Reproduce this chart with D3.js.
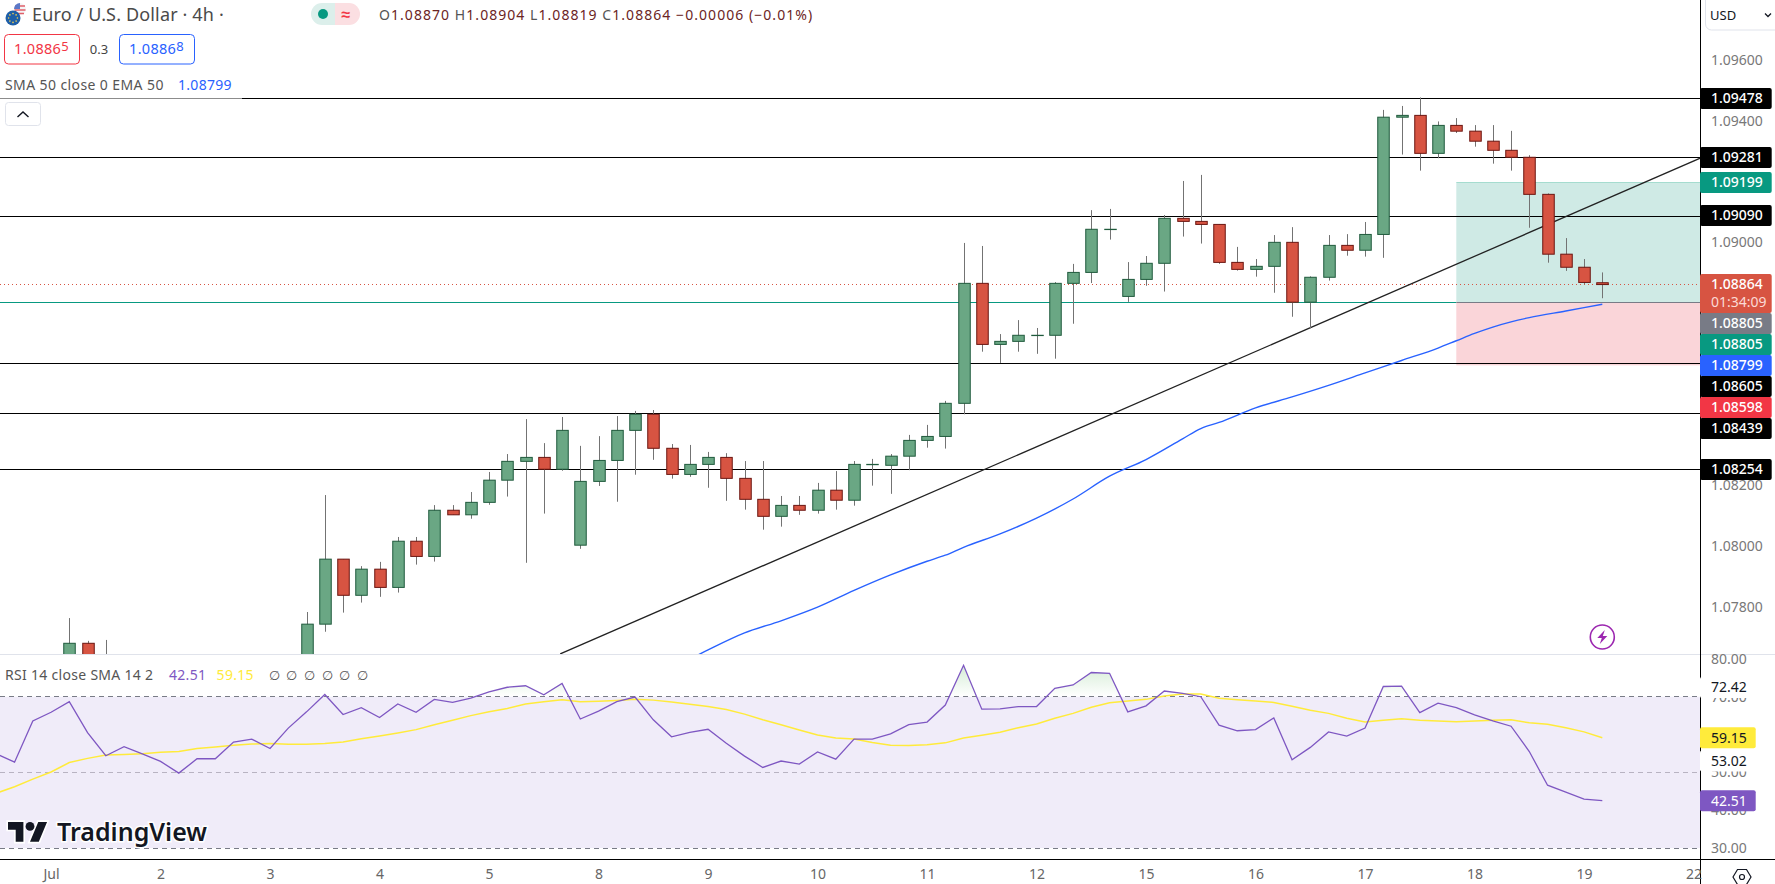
<!DOCTYPE html>
<html>
<head>
<meta charset="utf-8">
<title>EUR/USD 4h</title>
<script src="https://cdn.jsdelivr.net/npm/d3@7"></script>
<style>
html, body { margin: 0; padding: 0; background: #fff; overflow: hidden; }
text { font-family: "Noto Sans", sans-serif; }
</style>
</head>
<body>
<div id="chart"></div>
<script>
// candles, one slot per 4h bar. null = bar sits below the pane, can't be read
var opens = [null,null,null,null,
	1.07640,1.07683,1.07600,
	null,null,null,null,null,null,null,null,null,null,
	1.07640,1.07746,1.07960,1.07841,1.07927,1.07867,1.08019,1.07969,1.08121,1.08106,1.08147,1.08220,
	1.08282,1.08295,1.08256,1.08006,1.08216,1.08285,1.08384,1.08437,1.08325,1.08239,1.08272,1.08295,
	1.08226,1.08157,1.08101,1.08137,1.08121,1.08187,1.08154,1.08272,1.08269,1.08299,1.08351,1.08364,
	1.08473,1.08868,1.08667,1.08677,1.08697,1.08697,1.08868,1.08904,1.09046,1.08825,1.08881,1.08934,
	1.09082,1.09072,1.09062,1.08937,1.08914,1.08924,1.09003,1.08806,1.08888,1.08993,1.08977,1.09029,
	1.09415,1.09421,1.09296,1.09388,1.09369,1.09336,1.09306,1.09283,1.09161,1.08964,1.08921,1.08870];
var closes = [null,null,null,null,
	1.07683,1.07640,1.07590,
	null,null,null,null,null,null,null,null,null,null,
	1.07746,1.07960,1.07841,1.07927,1.07867,1.08019,1.07969,1.08121,1.08106,1.08147,1.08220,1.08282,
	1.08295,1.08256,1.08384,1.08216,1.08285,1.08384,1.08437,1.08325,1.08239,1.08272,1.08295,1.08226,
	1.08157,1.08101,1.08137,1.08121,1.08187,1.08154,1.08272,1.08272,1.08299,1.08351,1.08364,1.08473,
	1.08868,1.08667,1.08677,1.08697,1.08697,1.08868,1.08904,1.09046,1.09046,1.08881,1.08934,1.09082,
	1.09072,1.09062,1.08937,1.08914,1.08924,1.09003,1.08806,1.08888,1.08993,1.08977,1.09029,1.09415,
	1.09421,1.09296,1.09388,1.09369,1.09336,1.09306,1.09283,1.09161,1.08964,1.08921,1.08871,1.08864];
var highs = [null,null,null,null,
	1.07766,1.07691,1.07694,
	null,null,null,null,null,null,null,null,null,null,
	1.07786,1.08171,1.07960,1.07937,1.07951,1.08033,1.08033,1.08138,1.08138,1.08181,1.08247,1.08306,
	1.08421,1.08342,1.08428,1.08333,1.08365,1.08431,1.08448,1.08451,1.08339,1.08336,1.08313,1.08309,
	1.08283,1.08283,1.08168,1.08168,1.08211,1.08250,1.08283,1.08290,1.08306,1.08369,1.08402,1.08481,
	1.09001,1.08991,1.08701,1.08747,1.08721,1.08872,1.08932,1.09109,1.09113,1.08938,1.08958,1.09093,
	1.09205,1.09225,1.09062,1.08988,1.08948,1.09027,1.09053,1.08891,1.09027,1.09030,1.09070,1.09439,
	1.09452,1.09480,1.09401,1.09412,1.09389,1.09389,1.09370,1.09290,1.09164,1.09017,1.08948,1.08904];
var lows = [null,null,null,null,
	1.07620,1.07620,1.07570,
	null,null,null,null,null,null,null,null,null,null,
	1.07620,1.07721,1.07784,1.07817,1.07836,1.07850,1.07942,1.07952,1.08106,1.08093,1.08139,1.08166,
	1.07948,1.08110,1.08251,1.07994,1.08201,1.08149,1.08238,1.08287,1.08225,1.08231,1.08195,1.08152,
	1.08123,1.08057,1.08067,1.08106,1.08110,1.08123,1.08136,1.08202,1.08175,1.08253,1.08327,1.08324,
	1.08437,1.08643,1.08606,1.08643,1.08636,1.08620,1.08735,1.08869,1.09012,1.08807,1.08860,1.08841,
	1.09022,1.08999,1.08932,1.08910,1.08890,1.08837,1.08758,1.08720,1.08877,1.08959,1.08956,1.08952,
	1.09292,1.09239,1.09280,1.09363,1.09318,1.09262,1.09239,1.09051,1.08936,1.08909,1.08865,1.08819];

var emaBars = [38,39,41,43,45,47,49,51,52,53,55,57,59,61,63,65,66,67,69,71,73,75,77,79,80,81,82,83,84,86,88];
var emaValues = [1.07631,1.07661,1.07717,1.07757,1.07802,1.07857,1.07908,1.07953,1.07973,1.07999,1.08043,1.08095,1.08158,1.08233,1.08288,1.08356,1.08390,1.08410,1.08458,1.08494,1.08532,1.08573,1.08614,1.08655,1.08679,1.08703,1.08724,1.08741,1.08755,1.08777,1.08799];

var rsiValues = [54.9,52.7,63.6,65.9,68.7,60.5,54.4,56.8,54.9,52.9,49.8,53.6,53.6,58.0,58.8,56.3,61.7,66.0,70.6,65.3,67.1,64.5,68.1,65.9,69.3,68.5,69.6,71.3,72.5,72.9,70.5,73.5,64.1,66.2,68.7,69.9,63.9,59.4,60.6,61.4,57.7,54.3,51.3,53.0,52.2,55.4,53.5,58.8,58.8,60.2,62.6,63.3,67.8,78.3,66.7,66.8,67.4,67.4,72.2,73.1,76.4,76.2,66.0,67.6,71.5,70.9,70.0,62.5,61.0,61.3,64.4,53.3,56.6,60.7,59.6,61.7,72.7,72.8,65.8,68.3,67.1,65.2,63.6,62.2,55.5,46.6,44.8,42.9,42.51];
var rsiSma = [44.5,46.2,48.2,50.1,52.6,53.7,54.6,54.7,54.9,55.3,55.5,56.3,56.7,57.2,57.5,57.6,57.4,57.4,57.6,58.0,58.9,59.6,60.4,61.3,62.6,63.8,65.0,66.0,66.9,68.1,68.7,69.2,68.7,68.8,69.0,69.3,69.1,68.6,68.0,67.4,66.6,65.4,63.9,62.6,61.2,59.9,59.1,58.8,57.9,57.2,57.1,57.3,57.8,59.1,59.8,60.6,61.8,62.8,64.3,65.6,67.2,68.4,68.9,69.3,70.2,70.7,70.7,69.6,69.2,68.9,68.5,67.5,66.4,65.6,64.3,63.3,63.8,64.2,63.8,63.6,63.4,63.6,63.8,63.9,63.1,62.7,61.8,60.7,59.15];

var levels = [1.09478,1.09281,1.09090,1.08605,1.08439,1.08254];
// 1.092, 1.088, 1.086 and 1.084 sit fully behind tags
var priceTicks = [1.096,1.094,1.090,1.082,1.080,1.078];
var rsiTicks = [80,70,50,40,30];
var rsiBands = [70,50,30];
var dayBars = [3,9,15,21,27,33,39,45,51,57,63,69,75,81,87,93];
var dayLabels = ['Jul','2','3','4','5','8','9','10','11','12','15','16','17','18','19','22'];

// long position tool and trend line
var entry = 1.08805, target = 1.09199, stop = 1.08598, lastClose = 1.08864;
var boxBars = [80, 94];
var trendBars = [30.9, 93.4], trendPrices = [1.07648, 1.09281];

// price tags, top to bottom
var tagText = ['1.09478','1.09281','1.09199','1.09090','1.08864','1.08805','1.08805','1.08799','1.08605','1.08598','1.08439','1.08254'];
var tagFill = ['#000','#000','#089981','#000','#d75442','#787b86','#089981','#2962ff','#000','#f23645','#000','#000'];
var rsiTagText = ['72.42','59.15','53.02','42.51'];
var rsiTagFill = ['#fff','#ffeb3b','#fff','#7e57c2'];
var rsiTagInk = ['#131722','#131722','#131722','#fff'];

var W = 1775, H = 884, axisX = 1700, paneBottom = 654, rsiBottom = 859;
var green = '#6aa784', greenDark = '#1f5a3c', red = '#d75442', redDark = '#6b1510', wick = '#737373';

var x = d3.scaleLinear().domain([4, 88]).range([69.3, 1602.3]);
var y = d3.scaleLinear().domain([1.08, 1.096]).range([547, 61]);
var yr = d3.scaleLinear().domain([30, 80]).range([848, 658.9]);
function snap(v) { return Math.round(v - 0.4) + 0.5; }

var root = d3.select('#chart').append('svg')
	.attr('width', W)
	.attr('height', H)
	.style('display', 'block')
	.style('background', '#fff');

var defs = root.append('defs');
defs.append('clipPath').attr('id', 'pane').append('rect')
	.attr('x', 0).attr('y', 0).attr('width', axisX).attr('height', paneBottom);
defs.append('clipPath').attr('id', 'above70').append('rect')
	.attr('x', 0).attr('y', 0).attr('width', axisX).attr('height', yr(70));
var grad = defs.append('linearGradient').attr('id', 'ob')
	.attr('gradientUnits', 'userSpaceOnUse')
	.attr('x1', 0).attr('x2', 0).attr('y1', yr(80)).attr('y2', yr(70));
grad.append('stop').attr('offset', 0).attr('stop-color', '#4caf50').attr('stop-opacity', 0.28);
grad.append('stop').attr('offset', 1).attr('stop-color', '#4caf50').attr('stop-opacity', 0);

/* ---- main pane ---- */
var pane = root.append('g').attr('clip-path', 'url(#pane)');

// position box
pane.append('rect')
	.attr('x', x(boxBars[0])).attr('width', axisX - x(boxBars[0]))
	.attr('y', y(target)).attr('height', y(entry) - y(target))
	.attr('fill', '#cfeae5');
pane.append('rect')
	.attr('x', x(boxBars[0])).attr('width', axisX - x(boxBars[0]))
	.attr('y', y(entry)).attr('height', y(stop) - y(entry))
	.attr('fill', '#fad5d9');
pane.append('line')
	.attr('x1', x(boxBars[0])).attr('x2', axisX)
	.attr('y1', snap(y(target))).attr('y2', snap(y(target)))
	.attr('stroke', '#a5dccf').attr('stroke-width', 1);

// support and resistance
pane.selectAll('line.level')
	.data(levels).enter()
  .append('line')
	.attr('class', 'level')
	.attr('x1', 0).attr('x2', axisX)
	.attr('y1', function(d) { return snap(y(d)); })
	.attr('y2', function(d) { return snap(y(d)); })
	.attr('stroke', '#000').attr('stroke-width', 1);

// entry line changes colour where the box starts
pane.append('line')
	.attr('x1', 0).attr('x2', x(boxBars[0]))
	.attr('y1', snap(y(entry))).attr('y2', snap(y(entry)))
	.attr('stroke', '#089981').attr('stroke-width', 1);
pane.append('line')
	.attr('x1', x(boxBars[0])).attr('x2', axisX)
	.attr('y1', snap(y(entry))).attr('y2', snap(y(entry)))
	.attr('stroke', '#787b86').attr('stroke-width', 1);

// last price
pane.append('line')
	.attr('x1', 0).attr('x2', axisX)
	.attr('y1', snap(y(lastClose))).attr('y2', snap(y(lastClose)))
	.attr('stroke', '#d75442').attr('stroke-width', 1).attr('stroke-dasharray', '1 3');

// trend line
pane.append('line')
	.attr('x1', x(trendBars[0])).attr('x2', x(trendBars[1]))
	.attr('y1', y(trendPrices[0])).attr('y2', y(trendPrices[1]))
	.attr('stroke', '#222').attr('stroke-width', 1.3);

// candles
var bars = d3.range(opens.length).filter(function(i) { return opens[i] !== null; });
var candle = pane.selectAll('g.candle')
	.data(bars).enter()
  .append('g')
	.attr('class', 'candle');
candle.append('line')
	.attr('x1', function(i) { return Math.round(x(i)) + 0.5; })
	.attr('x2', function(i) { return Math.round(x(i)) + 0.5; })
	.attr('y1', function(i) { return y(highs[i]); })
	.attr('y2', function(i) { return y(lows[i]); })
	.attr('stroke', wick).attr('stroke-width', 1);
candle.append('rect')
	.attr('x', function(i) { return Math.round(x(i)) - 5.25; })
	.attr('width', 11.5)
	.attr('y', function(i) { return y(Math.max(opens[i], closes[i])); })
	.attr('height', function(i) { return Math.max(0.3, Math.abs(y(opens[i]) - y(closes[i]))); })
	.attr('fill', function(i) { return closes[i] >= opens[i] ? green : red; })
	.attr('stroke', function(i) { return closes[i] >= opens[i] ? greenDark : redDark; })
	.attr('stroke-width', 1);

// EMA
var emaLine = d3.line()
	.x(function(d, j) { return x(emaBars[j]); })
	.y(function(d) { return y(d); })
	.curve(d3.curveMonotoneX);
pane.append('path')
	.attr('d', emaLine(emaValues))
	.attr('fill', 'none').attr('stroke', '#2962ff').attr('stroke-width', 1.4);

// lightning mark on the last bar
var bolt = root.append('g').attr('transform', 'translate(' + x(88) + ',637)');
bolt.append('circle').attr('r', 12).attr('fill', '#fff').attr('stroke', '#9c27b0').attr('stroke-width', 1.6);
bolt.append('path').attr('d', 'M2.5 -7 L-5 1 L-0.5 1 L-2.5 7 L5 -1 L0.5 -1 Z').attr('fill', '#9c27b0');

/* ---- RSI pane ---- */
var rsi = root.append('g');
rsi.append('rect')
	.attr('x', 0).attr('width', axisX)
	.attr('y', yr(70)).attr('height', yr(30) - yr(70))
	.attr('fill', '#f0ecf9');
rsi.selectAll('line.band')
	.data(rsiBands).enter()
  .append('line')
	.attr('class', 'band')
	.attr('x1', 0).attr('x2', axisX)
	.attr('y1', function(d) { return snap(yr(d)); })
	.attr('y2', function(d) { return snap(yr(d)); })
	.attr('stroke', function(d) { return d === 50 ? '#b8b3c2' : '#787b86'; })
	.attr('stroke-width', 1)
	.attr('stroke-dasharray', '5 4');

var overArea = d3.area()
	.x(function(d, i) { return x(i); })
	.y0(yr(70))
	.y1(function(d) { return yr(d); });
rsi.append('path')
	.attr('d', overArea(rsiValues))
	.attr('clip-path', 'url(#above70)')
	.attr('fill', 'url(#ob)');

var rsiLine = d3.line()
	.x(function(d, i) { return x(i); })
	.y(function(d) { return yr(d); });
rsi.append('path')
	.attr('d', rsiLine(rsiSma))
	.attr('fill', 'none').attr('stroke', '#ffeb3b').attr('stroke-width', 1.5);
rsi.append('path')
	.attr('d', rsiLine(rsiValues))
	.attr('fill', 'none').attr('stroke', '#7e57c2').attr('stroke-width', 1.3);

/* ---- frame and axes ---- */
root.append('line')
	.attr('x1', 0).attr('x2', W).attr('y1', paneBottom).attr('y2', paneBottom)
	.attr('stroke', '#e0e3eb').attr('stroke-width', 1).attr('shape-rendering', 'crispEdges');
root.append('line')
	.attr('x1', 0).attr('x2', W).attr('y1', rsiBottom).attr('y2', rsiBottom)
	.attr('stroke', '#000').attr('stroke-width', 1).attr('shape-rendering', 'crispEdges');
root.append('line')
	.attr('x1', axisX).attr('x2', axisX).attr('y1', 0).attr('y2', H)
	.attr('stroke', '#000').attr('stroke-width', 1).attr('shape-rendering', 'crispEdges');

var priceAxis = d3.axisRight(y).tickValues(priceTicks).tickSize(0).tickPadding(11)
	.tickFormat(d3.format('.5f'));
var gp = root.append('g').attr('transform', 'translate(' + axisX + ',0)').call(priceAxis);
gp.select('.domain').remove();
gp.selectAll('text').attr('fill', '#787878').attr('dy', '0.25em').style('font-size', '14px');

var rsiAxis = d3.axisRight(yr).tickValues(rsiTicks).tickSize(0).tickPadding(11)
	.tickFormat(d3.format('.2f'));
var gr = root.append('g').attr('transform', 'translate(' + axisX + ',0)').call(rsiAxis);
gr.select('.domain').remove();
gr.selectAll('text').attr('fill', '#787878').style('font-size', '14px');

var timeAxis = d3.axisBottom(x).tickValues(dayBars).tickSize(0).tickPadding(10)
	.tickFormat(function(d) { return dayLabels[dayBars.indexOf(d)]; });
var gt = root.append('g').attr('transform', 'translate(0,' + rsiBottom + ')').call(timeAxis);
gt.select('.domain').remove();
gt.selectAll('text').attr('fill', '#666').style('font-size', '14px');

// tags: stack down so they never overlap
var tagH = 21, lastTagH = 39, bottomEdge = -1e9;
var tagG = root.append('g');
tagText.forEach(function(t, n) {
	var isLast = t === '1.08864';
	var top = Math.max(Math.floor(y(+t) - 10), bottomEdge);
	var h = isLast ? lastTagH : tagH;
	bottomEdge = top + h;
	tagG.append('rect')
		.attr('x', axisX).attr('y', top).attr('width', 71.7).attr('height', h)
		.attr('rx', 2).attr('fill', tagFill[n]);
	tagG.append('text')
		.attr('x', axisX + 11).attr('y', top + tagH / 2).attr('dy', '0.35em')
		.attr('fill', '#fff').style('font-size', '14px').style('font-weight', 500).text(t);
	if (isLast) {
		tagG.append('text')
			.attr('x', axisX + 11).attr('y', top + 28).attr('dy', '0.35em')
			.attr('fill', '#fbdad5').style('font-size', '14px').text('01:34:09');
	}
});
rsiTagText.forEach(function(t, n) {
	var top = yr(+t) - tagH / 2;
	tagG.append('rect')
		.attr('x', axisX).attr('y', top).attr('width', 55.7).attr('height', tagH)
		.attr('rx', 2).attr('fill', rsiTagFill[n]);
	tagG.append('text')
		.attr('x', axisX + 11).attr('y', top + tagH / 2).attr('dy', '0.35em')
		.attr('fill', rsiTagInk[n]).style('font-size', '14px').text(t);
});

/* ---- legends ---- */
// veil behind the legend, greys the first level line
root.append('rect')
	.attr('x', 0).attr('y', 70).attr('width', 242).attr('height', 30)
	.attr('fill', '#fff').attr('opacity', 0.55);

// flags
var flag = root.append('g');
flag.append('circle').attr('cx', 20).attr('cy', 9).attr('r', 6).attr('fill', '#f4f4f6');
flag.append('path').attr('d', 'M15 6 H25 M14.5 10 H25.5 M16 13.5 H24').attr('stroke', '#e0606a').attr('stroke-width', 1.4);
flag.append('path').attr('d', 'M14 9 A6 6 0 0 1 20 3 V9 Z').attr('fill', '#5b78c7');
flag.append('circle').attr('cx', 13).attr('cy', 18).attr('r', 7.5).attr('fill', '#1d5ea8');
d3.range(8).forEach(function(n) {
	flag.append('circle')
		.attr('cx', 13 + 4.4 * Math.cos(n * Math.PI / 4))
		.attr('cy', 18 + 4.4 * Math.sin(n * Math.PI / 4))
		.attr('r', 0.8).attr('fill', '#f6d04d');
});

root.append('text').attr('x', 32).attr('y', 21)
	.attr('fill', '#4a4a4a').style('font-size', '18px').style('letter-spacing', '0.15px').text('Euro / U.S. Dollar \u00b7 4h \u00b7');

// market status pill
root.append('path').attr('d', 'M322 3 H335 V25 H322 A11 11 0 0 1 322 3 Z').attr('fill', '#dcefeb');
root.append('path').attr('d', 'M335 3 H349 A11 11 0 0 1 349 25 H335 Z').attr('fill', '#fbdfe2');
root.append('circle').attr('cx', 323).attr('cy', 14).attr('r', 5).attr('fill', '#089981');
root.append('text').attr('x', 346).attr('y', 14).attr('dy', '0.35em').attr('text-anchor', 'middle')
	.attr('fill', '#f23645').style('font-size', '16px').style('font-weight', 700).text('\u2248');

var ohlcLabels = ['O', ' H', ' L', ' C'];
var ohlcValues = ['1.08870', '1.08904', '1.08819', '1.08864'];
var ohlc = root.append('text').attr('x', 379).attr('y', 20)
	.style('font-size', '14px').style('white-space', 'pre').style('letter-spacing', '1.05px');
ohlcLabels.forEach(function(l, n) {
	ohlc.append('tspan').attr('fill', '#555').text(l);
	ohlc.append('tspan').attr('fill', '#6b2424').text(ohlcValues[n]);
});
ohlc.append('tspan').attr('fill', '#6b2424').text(' \u22120.00006 (\u22120.01%)');

// bid and ask
var bidAsk = [['1.0886', '5', '#f23645', 4], ['1.0886', '8', '#2962ff', 119]];
bidAsk.forEach(function(b) {
	root.append('rect')
		.attr('x', b[3] + 0.5).attr('y', 34.5).attr('width', 75).attr('height', 29.5)
		.attr('rx', 4).attr('fill', '#fff').attr('stroke', b[2]);
	var t = root.append('text').attr('x', b[3] + 37.5).attr('y', 54).attr('text-anchor', 'middle')
		.attr('fill', b[2]).style('font-size', '14.5px').style('letter-spacing', '0.3px');
	t.append('tspan').text(b[0]);
	t.append('tspan').attr('dy', -3).style('font-size', '13px').text(b[1]);
});
root.append('text').attr('x', 99).attr('y', 54).attr('text-anchor', 'middle')
	.attr('fill', '#444').style('font-size', '13px').text('0.3');

root.append('text').attr('x', 5).attr('y', 90)
	.attr('fill', '#555').style('font-size', '14px').style('letter-spacing', '0.4px').text('SMA 50 close 0 EMA 50');
root.append('text').attr('x', 178).attr('y', 90)
	.attr('fill', '#2962ff').style('font-size', '14px').style('letter-spacing', '0.3px').text('1.08799');

// collapse button
root.append('rect').attr('x', 5.5).attr('y', 102.5).attr('width', 35).attr('height', 23)
	.attr('rx', 3).attr('fill', '#fff').attr('stroke', '#e0e3eb');
root.append('path').attr('d', 'M17.5 117 L23 112 L28.5 117').attr('fill', 'none')
	.attr('stroke', '#131722').attr('stroke-width', 1.4);

// rsi legend
root.append('text').attr('x', 5).attr('y', 680)
	.attr('fill', '#555').style('font-size', '14px').style('letter-spacing', '0.3px').text('RSI 14 close SMA 14 2');
root.append('text').attr('x', 169).attr('y', 680)
	.attr('fill', '#7e57c2').style('font-size', '14px').style('letter-spacing', '0.3px').text('42.51');
root.append('text').attr('x', 216.6).attr('y', 680)
	.attr('fill', '#ffeb3b').style('font-size', '14px').style('letter-spacing', '0.3px').text('59.15');
var emptyMarks = [269, 286, 304, 322, 339, 357];
root.selectAll('text.empty')
	.data(emptyMarks).enter()
  .append('text')
	.attr('class', 'empty')
	.attr('x', function(d) { return d; })
	.attr('y', 680)
	.attr('fill', '#555').style('font-family', '"DejaVu Sans"').style('font-size', '13px').text('\u2205');

// watermark
var logo = root.append('g').attr('transform', 'translate(8,817.6) scale(1.1)');
logo.append('path').attr('d', 'M14 22H7V11H0V4h14v18zM28 22h-8l7.5-18h8L28 22z').attr('fill', '#131722')
	.attr('stroke', '#fff').attr('stroke-width', 3).attr('paint-order', 'stroke');
logo.append('circle').attr('cx', 20).attr('cy', 8).attr('r', 4).attr('fill', '#131722');
root.append('text').attr('x', 57).attr('y', 841)
	.attr('fill', '#131722').attr('stroke', '#fff').attr('stroke-width', 3).attr('paint-order', 'stroke')
	.style('font-size', '25px').style('font-weight', 600).text('TradingView');

// currency selector
root.append('rect').attr('x', 1705.5).attr('y', -6).attr('width', 80).attr('height', 36)
	.attr('rx', 6).attr('fill', '#fff').attr('stroke', '#e0e3eb');
root.append('text').attr('x', 1710).attr('y', 19.5)
	.attr('fill', '#131722').style('font-size', '13px').text('USD');
root.append('path').attr('d', 'M1765 13.5 L1768 16.5 L1771 13.5').attr('fill', 'none')
	.attr('stroke', '#131722').attr('stroke-width', 1.3);

// settings hexagon
root.append('path').attr('d', 'M1733 877 L1737.5 869.5 L1746.5 869.5 L1751 877 L1746.5 884.5 L1737.5 884.5 Z')
	.attr('fill', 'none').attr('stroke', '#131722').attr('stroke-width', 1.2);
root.append('circle').attr('cx', 1742).attr('cy', 877).attr('r', 2.5)
	.attr('fill', 'none').attr('stroke', '#131722').attr('stroke-width', 1.2);
</script>
</body>
</html>
